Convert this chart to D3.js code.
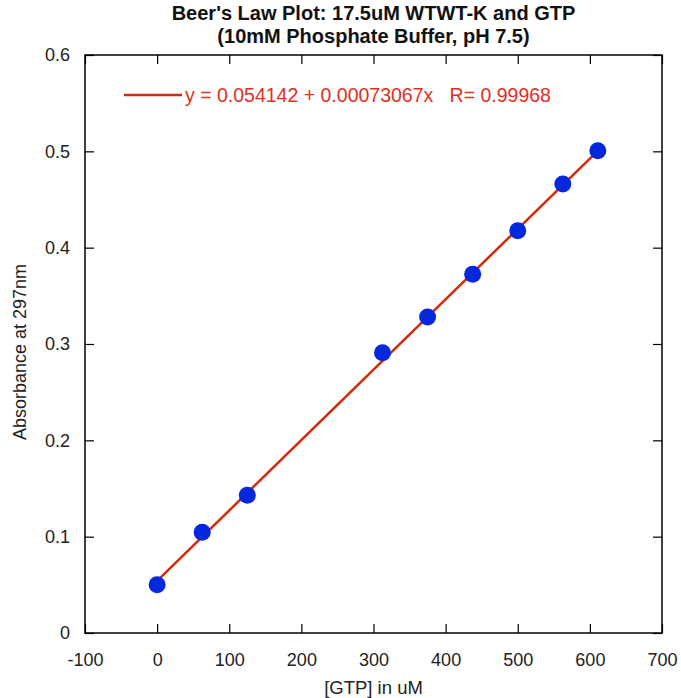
<!DOCTYPE html>
<html>
<head>
<meta charset="utf-8">
<script src="https://cdn.jsdelivr.net/npm/d3@7"></script>
<style>
  body { margin: 0; background: #fff; }
  svg { font-family: "Liberation Sans", Arial, sans-serif; }
  .tick text { fill: #222; font-size: 18px; }
</style>
</head>
<body>
<svg id="chart" width="681" height="698"></svg>
<script>
// GTP concentration (uM) and absorbance at 297nm
var gtpConc = [0, 62.5, 125, 312.5, 375, 437.5, 500, 562.5, 611];
var absorbance = [0.050, 0.1045, 0.143, 0.291, 0.328, 0.3725, 0.4175, 0.466, 0.5005];

// linear fit reported on the plot
var fitIntercept = 0.054142;
var fitSlope = 0.00073067;
var fitR = 0.99968;

var xTicks = [-100, 0, 100, 200, 300, 400, 500, 600, 700];
var yTicks = [0, 0.1, 0.2, 0.3, 0.4, 0.5, 0.6];

var titleLines = ["Beer's Law Plot: 17.5uM WTWT-K and GTP", "(10mM Phosphate Buffer, pH 7.5)"];

var margin = { top: 55, right: 19, bottom: 65, left: 85 };
var width = 681 - margin.left - margin.right;
var height = 698 - margin.top - margin.bottom;

var svg = d3.select("#chart");
var g = svg.append("g")
  .attr("transform", "translate(" + margin.left + "," + margin.top + ")");

var x = d3.scaleLinear().domain([-100, 700]).range([0, width]);
var y = d3.scaleLinear().domain([0, 0.6]).range([height, 0]);

var tickLen = 9;

// bottom axis with labels (plain hyphen for negatives)
g.append("g")
  .attr("class", "x axis")
  .attr("transform", "translate(0," + height + ")")
  .call(d3.axisBottom(x).tickValues(xTicks).tickSizeInner(-tickLen).tickSizeOuter(0).tickPadding(20).tickFormat(function (d) { return String(d); }));

// top ticks
g.append("g")
  .call(d3.axisTop(x).tickValues(xTicks).tickSizeInner(-tickLen).tickSizeOuter(0).tickFormat(""));

// left axis with labels
g.append("g")
  .attr("class", "y axis")
  .call(d3.axisLeft(y).tickValues(yTicks).tickSizeInner(-tickLen).tickSizeOuter(0).tickPadding(15).tickFormat(function (d) { return d === 0 ? "0" : d3.format(".1f")(d); }));

// right ticks
g.append("g")
  .attr("transform", "translate(" + width + ",0)")
  .call(d3.axisRight(y).tickValues(yTicks).tickSizeInner(-tickLen).tickSizeOuter(0).tickFormat(""));

g.selectAll(".domain").remove();
g.selectAll(".tick line").attr("stroke", "#000").attr("stroke-width", 1.2);

// frame
g.append("rect")
  .attr("width", width)
  .attr("height", height)
  .attr("fill", "none")
  .attr("stroke", "#000")
  .attr("stroke-width", 1.5);

// fit line over the data range
var xMin = d3.min(gtpConc), xMax = d3.max(gtpConc);
var fitLine = d3.line()
  .x(function (d) { return x(d); })
  .y(function (d) { return y(fitIntercept + fitSlope * d); });

g.append("path")
  .datum([xMin, xMax])
  .attr("d", fitLine)
  .attr("fill", "none")
  .attr("stroke", "#d42a0c")
  .attr("stroke-width", 2.5);

// data points
g.selectAll(".dot")
  .data(gtpConc)
  .enter()
  .append("circle")
  .attr("class", "dot")
  .attr("cx", function (d) { return x(d); })
  .attr("cy", function (d, i) { return y(absorbance[i]); })
  .attr("r", 8.5)
  .attr("fill", "#0528dc");

// legend
g.append("line")
  .attr("x1", 39).attr("x2", 97)
  .attr("y1", 40).attr("y2", 40)
  .attr("stroke", "#d42a0c")
  .attr("stroke-width", 2.5);

g.append("text")
  .attr("x", 100)
  .attr("y", 46.5)
  .attr("fill", "#e0301f")
  .attr("font-size", 19.5)
  .attr("xml:space", "preserve")
  .text("y = " + fitIntercept + " + " + fitSlope + "x   R= " + fitR);

// title
svg.selectAll(".title")
  .data(titleLines)
  .enter()
  .append("text")
  .attr("class", "title")
  .attr("x", margin.left + width / 2)
  .attr("y", function (d, i) { return 20 + i * 23; })
  .attr("text-anchor", "middle")
  .attr("font-weight", "bold")
  .attr("font-size", 20)
  .attr("fill", "#111")
  .text(function (d) { return d; });

// axis titles
svg.append("text")
  .attr("x", margin.left + width / 2)
  .attr("y", 694)
  .attr("text-anchor", "middle")
  .attr("font-size", 18.5)
  .attr("fill", "#222")
  .text("[GTP] in uM");

svg.append("text")
  .attr("transform", "translate(26,352) rotate(-90)")
  .attr("text-anchor", "middle")
  .attr("font-size", 18)
  .attr("fill", "#222")
  .text("Absorbance at 297nm");
</script>
</body>
</html>
